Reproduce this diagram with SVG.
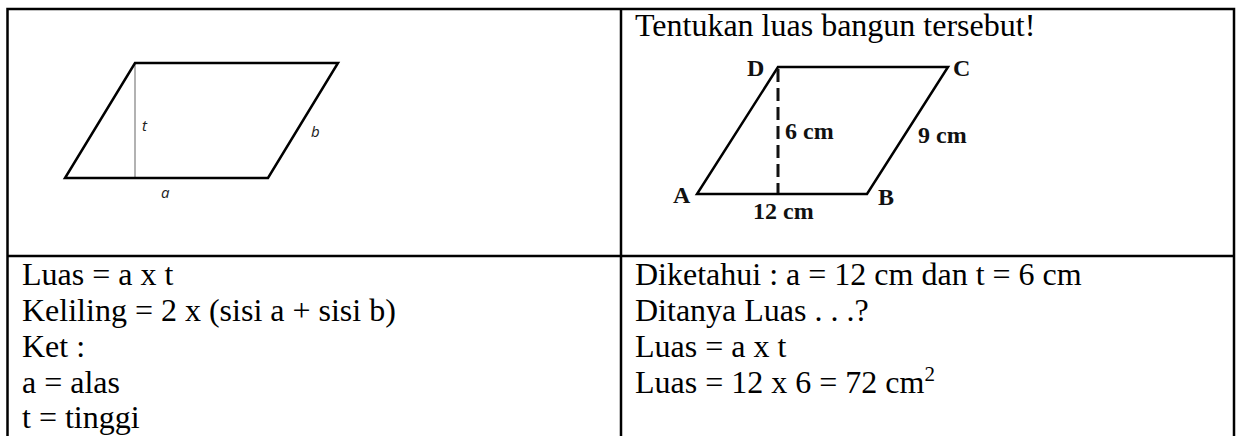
<svg xmlns="http://www.w3.org/2000/svg" width="1240" height="436" viewBox="0 0 1240 436">
<style>
.grid{stroke:#000;stroke-width:2.5;fill:none}
.txt{font-family:"Liberation Serif","Times New Roman",serif;font-size:32px;fill:#000}
.lbl{font-family:"Open Sans","Noto Sans",sans-serif;font-style:italic;font-size:15px;fill:#222}
.blbl{font-family:"Liberation Serif","Times New Roman",serif;font-weight:bold;font-size:24px;fill:#111}
.shape{stroke:#000;stroke-width:2.5;fill:none;stroke-linejoin:miter}
</style>
<rect width="1240" height="436" fill="#fff"/>
<g id="table">
<path class="grid" d="M7.5,436 V9 H1234 V436 M621,9 V436 M7.5,256 H1234"/>
</g>
<g id="parallelogram-general">
<line x1="135" y1="63" x2="135" y2="178" stroke="#999" stroke-width="1.5"/>
<polygon class="shape" points="65,178 268,178 338,63 135,63"/>
<text class="lbl" x="142" y="131">t</text>
<text class="lbl" x="311" y="137">b</text>
<text class="lbl" x="161" y="198">a</text>
</g>
<g id="parallelogram-abcd">
<polygon class="shape" points="697,194 867,194 948,67 778,67" stroke="#111"/>
<line x1="778" y1="69" x2="778" y2="193" stroke="#111" stroke-width="3" stroke-dasharray="13,6"/>
<text class="blbl" x="747" y="76">D</text>
<text class="blbl" x="953" y="76">C</text>
<text class="blbl" x="673" y="203">A</text>
<text class="blbl" x="878" y="205">B</text>
<text class="blbl" x="785" y="139">6 cm</text>
<text class="blbl" x="918" y="143">9 cm</text>
<text class="blbl" x="753" y="219">12 cm</text>
</g>
<g id="title">
<text class="txt" x="635" y="36">Tentukan luas bangun tersebut!</text>
</g>
<g id="formulas">
<text class="txt" x="22" y="285">Luas = a x t</text>
<text class="txt" x="22" y="321">Keliling = 2 x (sisi a + sisi b)</text>
<text class="txt" x="22" y="357">Ket :</text>
<text class="txt" x="22" y="393">a = alas</text>
<text class="txt" x="22" y="428">t = tinggi</text>
</g>
<g id="solution">
<text class="txt" x="635" y="285">Diketahui : a = 12 cm dan t = 6 cm</text>
<text class="txt" x="635" y="321">Ditanya Luas . . .?</text>
<text class="txt" x="635" y="357">Luas = a x t</text>
<text class="txt" x="635" y="393">Luas = 12 x 6 = 72 cm<tspan font-size="21" dy="-12">2</tspan></text>
</g>
</svg>
